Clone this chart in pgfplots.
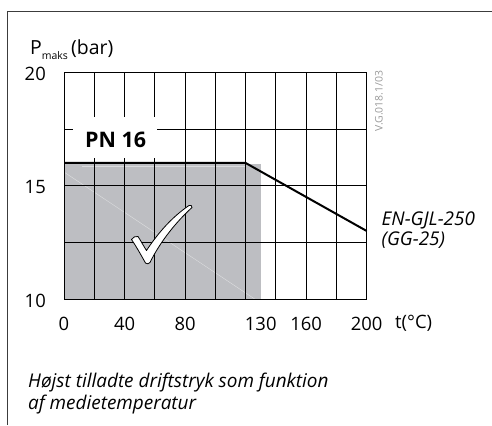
\documentclass[border=0pt]{standalone}
\usepackage{pgfplots}
\pgfplotsset{compat=1.18}
\usepackage{fontspec}
\setmainfont{Open Sans}
\definecolor{graycol}{RGB}{189,190,194}
\definecolor{framecol}{RGB}{60,60,60}
\begin{document}
\begin{tikzpicture}[x=1bp,y=1bp]
\useasboundingbox (0,0) rectangle (492,425);
\begin{axis}[
  at={(64bp,126bp)}, anchor=south west,
  scale only axis, width=302.7bp, height=226.7bp,
  xmin=0, xmax=200, ymin=10, ymax=20,
  xtick={0,40,80,130,160,200},
  xticklabels={0,40,80,130,160,200},
  ytick={10,15,20},
  yticklabels={10,15,20},
  minor xtick={0,20,...,200},
  minor ytick={10,12.5,...,20},
  xminorgrids=true, yminorgrids=true,
  xmajorgrids=false, ymajorgrids=false,
  minor grid style={black, line width=0.9bp},
  axis line style={black, line width=0.9bp},
  major tick length=0pt, minor tick length=0pt,
  tick style={draw=none},
  xticklabel style={font=\fontsize{18.5}{20}\selectfont, anchor=base, inner sep=0pt, yshift=-31bp},
  yticklabel style={font=\fontsize{18.5}{20}\selectfont, anchor=east, inner sep=0pt, xshift=-18bp, yshift=-1.5bp},
  axis on top,
  clip=false,
]
\addplot[fill=graycol, draw=none] coordinates {(0,15.95) (130,15.95)} \closedcycle;
\draw[white, opacity=0.5, line width=0.4bp] (axis cs:0,15.6) -- (axis cs:126,10);
\draw[white, opacity=0.45, line width=0.5bp] (axis cs:12,15.84) -- (axis cs:120,15.84);
\addplot[black, line width=2bp] coordinates {(0,16) (120,16) (200,13)};
\end{axis}
% outer frame (top and left)
\draw[framecol, line width=1bp] (7.5,0) -- (7.5,413.3) -- (492,413.3);
% PN 16 label with knockout
\fill[white] (73,267) rectangle (157,308);
\node[anchor=base west, inner sep=0pt, font=\fontsize{21.5}{24}\selectfont\bfseries] at (85,278) {PN 16};
% checkmark
\draw[black, fill=white, line width=0.8bp, line join=round]
  (131.5,185.5) .. controls (133,188) and (135.5,189) .. (138,188.5)
  .. controls (141,184) and (143.5,179) .. (146.5,174.5)
  .. controls (158,192) and (172,208) .. (189,219.5)
  .. controls (190.5,220.5) and (192.5,219) .. (192,217.5)
  .. controls (176,203) and (160,183) .. (150,162.5)
  .. controls (149,160.8) and (146.5,160.8) .. (145.5,162)
  .. controls (141,170) and (136,179) .. cycle;
% y label
\node[anchor=base west, inner sep=0pt, font=\fontsize{19.5}{20}\selectfont] at (30,370.5) {P\raisebox{-0.45ex}{\fontsize{10.5}{10}\selectfont maks}\,(bar)};
% version code
\node[rotate=90, inner sep=0pt, text=black!40, font=\fontsize{10.5}{10}\selectfont] at (379,324) {V.G.018.1/03};
% curve label
\node[anchor=base west, inner sep=0pt, font=\fontsize{19}{20}\selectfont\itshape] at (381.5,200) {EN-GJL-250};
\node[anchor=base west, inner sep=0pt, font=\fontsize{19}{20}\selectfont\itshape] at (381.5,180) {(GG-25)};
% x label
\node[anchor=base west, inner sep=0pt, font=\fontsize{18.5}{20}\selectfont] at (395,97) {t(°C)};
% caption
\node[anchor=base west, inner sep=0pt, font=\fontsize{19}{20}\selectfont\itshape] at (28,37.3) {Højst tilladte driftstryk som funktion};
\node[anchor=base west, inner sep=0pt, font=\fontsize{19}{20}\selectfont\itshape] at (28,15.5) {af medietemperatur};
\end{tikzpicture}
\end{document}
